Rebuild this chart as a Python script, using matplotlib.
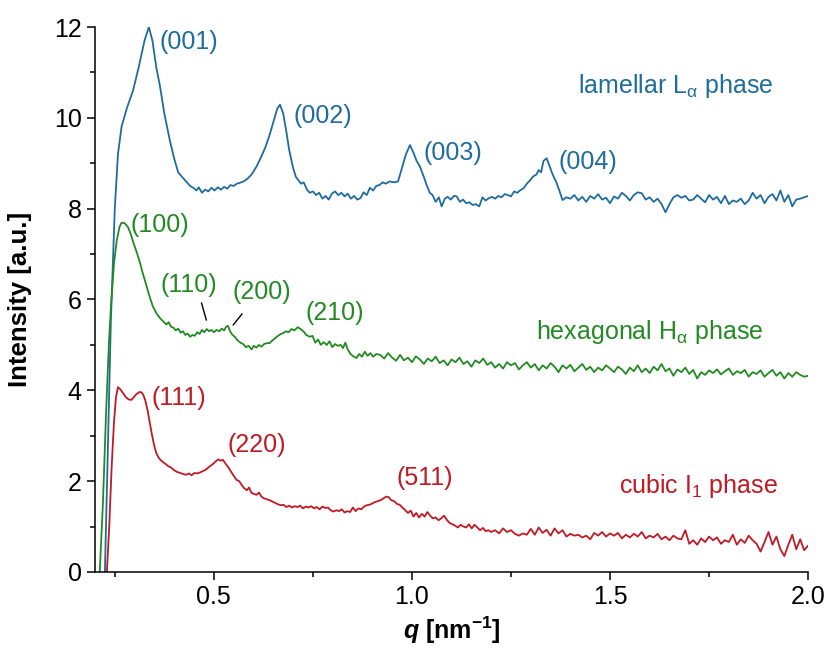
import matplotlib
matplotlib.use('Agg')
import matplotlib.pyplot as plt
from matplotlib.ticker import MultipleLocator

plt.rcParams.update({
    'font.family': ['Liberation Sans', 'DejaVu Sans'],
    'font.size': 18,
    'mathtext.fontset': 'custom',
    'mathtext.rm': 'Liberation Sans',
    'mathtext.it': 'Liberation Sans:italic',
    'mathtext.bf': 'Liberation Sans:bold',
    'mathtext.bfit': 'Liberation Sans:bold:italic',
})

# lamellar L_alpha
q_lam = [0.225, 0.232, 0.240, 0.250, 0.258, 0.267, 0.280, 0.296, 0.310, 0.325, 0.336, 0.345,
         0.355, 0.364, 0.375, 0.389, 0.400, 0.410, 0.420, 0.430, 0.440, 0.450, 0.456, 0.462,
         0.470, 0.478, 0.486, 0.494, 0.502, 0.510, 0.518, 0.526, 0.534, 0.542, 0.550, 0.558,
         0.566, 0.575, 0.585, 0.595, 0.608, 0.620, 0.630, 0.640, 0.650, 0.660, 0.667, 0.675,
         0.683, 0.690, 0.700, 0.707, 0.713, 0.720, 0.727, 0.735, 0.742, 0.750, 0.758, 0.766,
         0.774, 0.782, 0.790, 0.798, 0.806, 0.814, 0.822, 0.830, 0.838, 0.846, 0.854, 0.862,
         0.870, 0.878, 0.886, 0.894, 0.902, 0.910, 0.918, 0.926, 0.934, 0.944, 0.955, 0.965,
         0.975, 0.985, 0.995, 1.003, 1.012, 1.020, 1.030, 1.038, 1.045, 1.052, 1.060, 1.068,
         1.075, 1.083, 1.090, 1.098, 1.106, 1.113, 1.121, 1.129, 1.137, 1.145, 1.153, 1.161,
         1.170, 1.178, 1.186, 1.194, 1.202, 1.210, 1.218, 1.226, 1.234, 1.242, 1.250, 1.258,
         1.266, 1.274, 1.282, 1.290, 1.298, 1.306, 1.314, 1.320, 1.326, 1.332, 1.340, 1.347,
         1.353, 1.358, 1.365, 1.372, 1.380,
         1.39, 1.40, 1.41, 1.42, 1.43, 1.44, 1.45, 1.46, 1.47, 1.48, 1.49, 1.50, 1.51, 1.52,
         1.53, 1.54, 1.55, 1.56, 1.57, 1.58, 1.59, 1.60, 1.61, 1.62, 1.63, 1.64, 1.65, 1.66,
         1.67, 1.68, 1.69, 1.70, 1.71, 1.72, 1.73, 1.74, 1.75, 1.76, 1.77, 1.78, 1.79, 1.80,
         1.81, 1.82, 1.83, 1.84, 1.85, 1.86, 1.87, 1.88, 1.89, 1.90, 1.91, 1.92, 1.93, 1.94,
         1.95, 1.96, 1.97, 1.98, 1.99, 2.00]
i_lam = [0.0, 2.5, 5.5, 8.0, 9.2, 9.8, 10.2, 10.6, 11.1, 11.7, 12.0, 11.7,
         11.1, 10.7, 10.1, 9.5, 9.1, 8.8, 8.7, 8.6, 8.5, 8.45, 8.4, 8.47,
         8.35, 8.42, 8.38, 8.46, 8.40, 8.47, 8.42, 8.48, 8.44, 8.52, 8.50, 8.55,
         8.57, 8.60, 8.66, 8.75, 8.93, 9.15, 9.35, 9.6, 9.9, 10.2, 10.29, 10.1,
         9.7, 9.3, 8.9, 8.7, 8.63, 8.55, 8.58, 8.42, 8.35, 8.38, 8.30, 8.35,
         8.22, 8.28, 8.20, 8.33, 8.38, 8.30, 8.35, 8.27, 8.33, 8.22, 8.28, 8.20,
         8.23, 8.36, 8.30, 8.46, 8.40, 8.50, 8.52, 8.58, 8.55, 8.60, 8.58, 8.60,
         8.9, 9.2, 9.4, 9.25, 9.05, 8.93, 8.7, 8.5, 8.35, 8.30, 8.15, 8.25,
         8.05, 8.22, 8.26, 8.20, 8.28, 8.27, 8.15, 8.20, 8.12, 8.14, 8.08, 8.10,
         8.05, 8.25, 8.18, 8.23, 8.26, 8.22, 8.28, 8.25, 8.32, 8.30, 8.27, 8.38,
         8.35, 8.41, 8.45, 8.55, 8.62, 8.71, 8.75, 8.85, 8.80, 9.05, 9.11, 8.95,
         8.80, 8.70, 8.57, 8.40, 8.19,
         8.25, 8.22, 8.30, 8.18, 8.26, 8.15, 8.28, 8.22, 8.32, 8.20, 8.24, 8.12, 8.27, 8.22,
         8.35, 8.28, 8.18, 8.30, 8.36, 8.34, 8.20, 8.25, 8.15, 8.22, 8.10, 7.92, 8.10, 8.25,
         8.30, 8.24, 8.28, 8.18, 8.20, 8.30, 8.22, 8.14, 8.30, 8.20, 8.26, 8.12, 8.28, 8.10,
         8.18, 8.15, 8.22, 8.10, 8.18, 8.35, 8.22, 8.30, 8.12, 8.26, 8.32, 8.18, 8.40, 8.15,
         8.30, 8.05, 8.20, 8.22, 8.25, 8.28]

# hexagonal H_alpha
q_hex = [0.212, 0.220, 0.228, 0.235, 0.240, 0.248, 0.255, 0.262, 0.267, 0.275, 0.283, 0.290,
         0.297, 0.305, 0.313, 0.320, 0.330, 0.338, 0.346, 0.355, 0.364, 0.372, 0.380, 0.386,
         0.392, 0.398, 0.404, 0.410, 0.416, 0.422, 0.428, 0.434, 0.440, 0.446, 0.452, 0.458,
         0.464, 0.470, 0.476, 0.482, 0.488, 0.494, 0.500, 0.507, 0.514, 0.520, 0.526, 0.531,
         0.536, 0.541, 0.547, 0.553, 0.560, 0.567, 0.574, 0.581, 0.588, 0.595, 0.601, 0.607,
         0.614, 0.620, 0.627, 0.634, 0.641, 0.648, 0.655, 0.662, 0.669, 0.675, 0.682, 0.689,
         0.696, 0.703, 0.712, 0.719, 0.726, 0.733, 0.742, 0.749, 0.756, 0.763, 0.770, 0.777,
         0.785, 0.792, 0.799, 0.806, 0.813, 0.820, 0.826, 0.832, 0.838, 0.845, 0.852, 0.860,
         0.867, 0.874, 0.881, 0.888, 0.895, 0.902, 0.910, 0.920,
         0.93, 0.94, 0.95, 0.96, 0.97, 0.98, 0.99, 1.00, 1.01, 1.02, 1.03, 1.04, 1.05, 1.06,
         1.07, 1.08, 1.09, 1.10, 1.11, 1.12, 1.13, 1.14, 1.15, 1.16, 1.17, 1.18, 1.19, 1.20,
         1.21, 1.22, 1.23, 1.24, 1.25, 1.26, 1.27, 1.28, 1.29, 1.30, 1.31, 1.32, 1.33, 1.34,
         1.35, 1.36, 1.37, 1.38, 1.39, 1.40, 1.41, 1.42, 1.43, 1.44, 1.45, 1.46, 1.47, 1.48,
         1.49, 1.50, 1.51, 1.52, 1.53, 1.54, 1.55, 1.56, 1.57, 1.58, 1.59, 1.60, 1.61, 1.62,
         1.63, 1.64, 1.65, 1.66, 1.67, 1.68, 1.69, 1.70, 1.71, 1.72, 1.73, 1.74, 1.75, 1.76,
         1.77, 1.78, 1.79, 1.80, 1.81, 1.82, 1.83, 1.84, 1.85, 1.86, 1.87, 1.88, 1.89, 1.90,
         1.91, 1.92, 1.93, 1.94, 1.95, 1.96, 1.97, 1.98, 1.99, 2.00]
i_hex = [0.0, 1.5, 3.5, 5.0, 5.8, 6.8, 7.3, 7.6, 7.69, 7.68, 7.6, 7.45,
         7.25, 7.05, 6.83, 6.6, 6.3, 6.06, 5.85, 5.7, 5.59, 5.52, 5.45, 5.50,
         5.40, 5.38, 5.32, 5.36, 5.27, 5.30, 5.22, 5.25, 5.18, 5.22, 5.20, 5.28,
         5.24, 5.33, 5.28, 5.35, 5.30, 5.33, 5.28, 5.33, 5.30, 5.36, 5.32, 5.40,
         5.42, 5.30, 5.22, 5.18, 5.10, 5.05, 5.02, 4.95, 4.98, 4.90, 4.98, 4.94,
         5.00, 4.96, 5.02, 5.04, 5.04, 5.10, 5.15, 5.20, 5.24, 5.26, 5.30, 5.28,
         5.35, 5.32, 5.39, 5.35, 5.30, 5.22, 5.18, 5.20, 5.05, 5.12, 5.00, 5.06,
         5.00, 5.08, 4.95, 5.02, 4.98, 5.00, 4.93, 5.05, 4.90, 4.80, 4.75, 4.71,
         4.80, 4.74, 4.85, 4.76, 4.82, 4.74, 4.80, 4.78,
         4.70, 4.82, 4.72, 4.65, 4.78, 4.66, 4.72, 4.62, 4.75, 4.68, 4.58, 4.70, 4.64, 4.74,
         4.60, 4.66, 4.55, 4.68, 4.62, 4.72, 4.58, 4.64, 4.52, 4.66, 4.60, 4.70, 4.56, 4.62,
         4.50, 4.58, 4.48, 4.62, 4.55, 4.60, 4.46, 4.55, 4.62, 4.50, 4.58, 4.44, 4.55, 4.48,
         4.60, 4.52, 4.40, 4.55, 4.48, 4.56, 4.42, 4.50, 4.58, 4.45, 4.52, 4.40, 4.50, 4.44,
         4.55, 4.48, 4.40, 4.52, 4.46, 4.36, 4.50, 4.42, 4.55, 4.40, 4.48, 4.38, 4.52, 4.44,
         4.58, 4.42, 4.48, 4.32, 4.46, 4.40, 4.50, 4.36, 4.45, 4.26, 4.40, 4.34, 4.44, 4.38,
         4.46, 4.35, 4.42, 4.48, 4.34, 4.42, 4.38, 4.45, 4.30, 4.40, 4.36, 4.44, 4.30, 4.38,
         4.45, 4.32, 4.40, 4.26, 4.38, 4.30, 4.40, 4.34, 4.30, 4.32]

# cubic I_1
q_cub = [0.230, 0.236, 0.242, 0.248, 0.253, 0.258, 0.264, 0.270, 0.278, 0.285, 0.292, 0.298,
         0.305, 0.312, 0.317, 0.322, 0.327, 0.333, 0.338, 0.343, 0.349, 0.355, 0.362, 0.370,
         0.378, 0.385, 0.392, 0.400, 0.408, 0.415, 0.422, 0.430, 0.437, 0.444, 0.451, 0.458,
         0.465, 0.472, 0.479, 0.486, 0.492, 0.498, 0.504, 0.511, 0.517, 0.523, 0.530, 0.537,
         0.544, 0.550, 0.557, 0.564, 0.570, 0.576, 0.583, 0.589, 0.595, 0.601, 0.608, 0.614,
         0.620, 0.627, 0.634, 0.641, 0.648, 0.655, 0.662, 0.669, 0.676, 0.683, 0.690, 0.697,
         0.704, 0.711, 0.718, 0.725, 0.732, 0.739, 0.746, 0.753, 0.760, 0.767, 0.774, 0.781,
         0.788, 0.795, 0.802, 0.809, 0.816, 0.823, 0.830, 0.837, 0.844, 0.851, 0.858, 0.865,
         0.872, 0.879, 0.886, 0.893, 0.900, 0.907, 0.914, 0.921, 0.928, 0.935, 0.941, 0.948,
         0.955, 0.962, 0.969, 0.976, 0.983, 0.990, 0.997, 1.004, 1.011, 1.018, 1.025, 1.032,
         1.039, 1.046, 1.053, 1.060, 1.067, 1.074, 1.081, 1.088, 1.095, 1.102, 1.109, 1.116,
         1.123, 1.130, 1.137, 1.144, 1.151, 1.158, 1.165, 1.172, 1.179, 1.186, 1.193,
         1.20, 1.21, 1.22, 1.23, 1.24, 1.25, 1.26, 1.27, 1.28, 1.29, 1.30, 1.31, 1.32, 1.33,
         1.34, 1.35, 1.36, 1.37, 1.38, 1.39, 1.40, 1.41, 1.42, 1.43, 1.44, 1.45, 1.46, 1.47,
         1.48, 1.49, 1.50, 1.51, 1.52, 1.53, 1.54, 1.55, 1.56, 1.57, 1.58, 1.59, 1.60, 1.61,
         1.62, 1.63, 1.64, 1.65, 1.66, 1.67, 1.68, 1.69, 1.70, 1.71, 1.72, 1.73, 1.74, 1.75,
         1.76, 1.77, 1.78, 1.79, 1.80, 1.81, 1.82, 1.83, 1.84, 1.85, 1.86, 1.87, 1.88, 1.89,
         1.90, 1.91, 1.92, 1.93, 1.94, 1.95, 1.96, 1.97, 1.98, 1.99, 2.00]
i_cub = [0.0, 1.0, 2.3, 3.3, 3.85, 4.07, 4.02, 3.95, 3.85, 3.80, 3.79, 3.85,
         3.92, 3.96, 3.96, 3.90, 3.78, 3.55, 3.30, 3.06, 2.80, 2.61, 2.50, 2.43,
         2.38, 2.33, 2.30, 2.24, 2.20, 2.18, 2.16, 2.14, 2.17, 2.13, 2.18, 2.17,
         2.19, 2.22, 2.25, 2.30, 2.34, 2.38, 2.43, 2.48, 2.45, 2.47, 2.38, 2.30,
         2.20, 2.12, 2.03, 2.00, 1.92, 1.85, 1.80, 1.86, 1.74, 1.72, 1.70, 1.75,
         1.66, 1.62, 1.60, 1.58, 1.55, 1.52, 1.49, 1.47, 1.48, 1.43, 1.46, 1.42,
         1.45, 1.43, 1.46, 1.40, 1.44, 1.42, 1.45, 1.40, 1.43, 1.38, 1.44, 1.41,
         1.42, 1.36, 1.33, 1.36, 1.34, 1.38, 1.31, 1.34, 1.32, 1.42, 1.34, 1.40,
         1.38, 1.44, 1.47, 1.48, 1.51, 1.54, 1.56, 1.58, 1.62, 1.66, 1.65, 1.58,
         1.56, 1.50, 1.48, 1.42, 1.36, 1.30, 1.35, 1.22, 1.30, 1.20, 1.28, 1.22,
         1.32, 1.24, 1.18, 1.20, 1.14, 1.18, 1.24, 1.15, 1.08, 1.05, 1.02, 0.98,
         1.04, 1.00, 0.98, 1.05, 0.96, 1.04, 0.98, 0.92, 0.97, 0.90, 0.92,
         0.88, 0.92, 0.85, 0.96, 0.88, 0.92, 0.84, 0.80, 0.85, 0.82, 0.95, 0.82, 0.98, 0.86,
         0.93, 0.80, 0.96, 0.85, 0.92, 0.78, 0.84, 0.80, 0.82, 0.76, 0.80, 0.72, 0.86, 0.80,
         0.88, 0.78, 0.85, 0.80, 0.86, 0.74, 0.82, 0.76, 0.84, 0.78, 0.88, 0.74, 0.80, 0.76,
         0.84, 0.72, 0.78, 0.70, 0.80, 0.74, 0.72, 0.92, 0.62, 0.70, 0.60, 0.74, 0.66, 0.78,
         0.70, 0.76, 0.62, 0.70, 0.66, 0.82, 0.60, 0.72, 0.64, 0.80, 0.70, 0.62, 0.45, 0.66,
         0.88, 0.60, 0.78, 0.50, 0.35, 0.60, 0.82, 0.50, 0.72, 0.48, 0.58]

c_lam = '#1f6c9f'
c_hex = '#238a23'
c_cub = '#c01a24'

fig = plt.figure(figsize=(8.28, 6.54), dpi=100)
ax = fig.add_axes([0.1147, 0.1254, 0.8613, 0.8333])

ax.plot(q_lam, i_lam, color=c_lam, lw=1.3)
ax.plot(q_hex, i_hex, color=c_hex, lw=1.3)
ax.plot(q_cub, i_cub, color=c_cub, lw=1.3)

# peak labels
ax.text(0.364, 11.67, '(001)', color=c_lam, va='center')
ax.text(0.700, 10.05, '(002)', color=c_lam, va='center')
ax.text(1.028, 9.23, '(003)', color=c_lam, va='center')
ax.text(1.369, 9.03, '(004)', color=c_lam, va='center')
ax.text(1.419, 10.70, r'lamellar L$_{\mathrm{\alpha}}$ phase', color=c_lam, va='center')

ax.text(0.290, 7.64, '(100)', color=c_hex, va='center')
ax.text(0.366, 6.32, '(110)', color=c_hex, va='center')
ax.text(0.548, 6.17, '(200)', color=c_hex, va='center')
ax.text(0.732, 5.70, '(210)', color=c_hex, va='center')
ax.text(1.313, 5.29, r'hexagonal H$_{\mathrm{\alpha}}$ phase', color=c_hex, va='center')
ax.plot([0.469, 0.481], [5.92, 5.55], color='black', lw=1.0)
ax.plot([0.571, 0.549], [5.68, 5.44], color='black', lw=1.0)

ax.text(0.343, 3.83, '(111)', color=c_cub, va='center')
ax.text(0.535, 2.80, '(220)', color=c_cub, va='center')
ax.text(0.962, 2.07, '(511)', color=c_cub, va='center')
ax.text(1.523, 1.89, r'cubic I$_{1}$ phase', color=c_cub, va='center')

ax.set_xlim(0.2, 2.0)
ax.set_ylim(0, 12)
ax.xaxis.set_minor_locator(MultipleLocator(0.25))
ax.yaxis.set_major_locator(MultipleLocator(2))
ax.yaxis.set_minor_locator(MultipleLocator(1))
ax.set_xticks([0.5, 1.0, 1.5, 2.0])
ax.set_xticklabels(['0.5', '1.0', '1.5', '2.0'])
ax.tick_params(which='major', direction='out', length=6, width=1.1, labelsize=18)
ax.tick_params(which='minor', direction='out', length=3.5, width=1.1)
for s in ['top', 'right']:
    ax.spines[s].set_visible(False)
for s in ['left', 'bottom']:
    ax.spines[s].set_linewidth(1.1)

ax.set_xlabel(r'$\mathbfit{q}$ [nm$^{\mathbf{-1}}$]', fontweight='bold', fontsize=18)
ax.set_ylabel('Intensity [a.u.]', fontweight='bold', fontsize=18.5)
ax.yaxis.set_label_coords(-0.088, 0.5)

fig.savefig('out.png', dpi=100)
